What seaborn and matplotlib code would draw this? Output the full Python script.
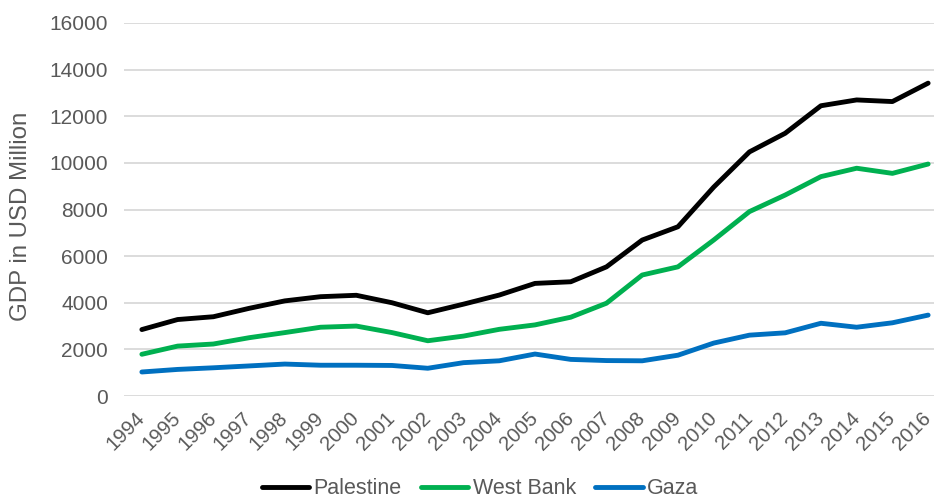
import matplotlib
matplotlib.use("Agg")
import matplotlib.pyplot as plt
import pandas as pd
import seaborn as sns

years = [str(y) for y in range(1994, 2017)]
palestine = [2850, 3280, 3400, 3760, 4080, 4260, 4320, 4000, 3570, 3940, 4330,
             4830, 4900, 5540, 6690, 7260, 8960, 10470, 11270, 12450, 12700, 12630, 13420]
west_bank = [1790, 2140, 2230, 2500, 2720, 2950, 3000, 2720, 2370, 2570, 2860,
             3050, 3380, 3980, 5190, 5540, 6690, 7910, 8620, 9410, 9770, 9550, 9950]
gaza = [1030, 1140, 1210, 1290, 1370, 1320, 1320, 1310, 1190, 1430, 1510,
        1800, 1570, 1520, 1510, 1750, 2270, 2610, 2710, 3120, 2950, 3140, 3470]
series_names = ["Palestine", "West Bank", "Gaza"]
colors = ["#000000", "#00B050", "#0070C0"]
y_ticks = list(range(0, 16001, 2000))

df = pd.DataFrame({
    "Year": years * 3,
    "GDP": palestine + west_bank + gaza,
    "Region": [n for n in series_names for _ in years],
})

sns.set_theme(style="white")
plt.rcParams["font.family"] = ["Liberation Sans", "DejaVu Sans"]
text_color = "#595959"

fig = plt.figure(figsize=(9.34, 4.99), dpi=100)
ax = fig.add_axes([124 / 934, 1 - 396 / 499, (946 - 124) / 934, (396 - 23) / 499])

sns.lineplot(data=df, x="Year", y="GDP", hue="Region", palette=colors,
             hue_order=series_names, linewidth=3.5, ax=ax, sort=False,
             legend=True)

ax.set_xlim(-0.5, len(years) - 0.5)
ax.set_ylim(0, 16000)
ax.set_yticks(y_ticks)
ax.set_yticklabels([str(t) for t in y_ticks])
ax.grid(axis="y", color="#D9D9D9", linewidth=1.3)
ax.set_axisbelow(True)
for s in ax.spines.values():
    s.set_visible(False)
ax.tick_params(axis="both", length=0, labelcolor=text_color)
ax.tick_params(axis="y", pad=11.5, labelsize=15)
ax.tick_params(axis="x", pad=14, labelsize=14.6)
for lbl in ax.get_xticklabels():
    lbl.set_rotation(45)
    lbl.set_ha("right")
    lbl.set_va("center")
    lbl.set_rotation_mode("anchor")
ax.set_xlabel("")
ax.set_ylabel("")
fig.text(21.5 / 934, 1 - 216 / 499, "GDP in USD Million", rotation=90,
         ha="center", va="center", fontsize=17.3, color=text_color)

handles, labels = ax.get_legend_handles_labels()
ax.get_legend().remove()
fig.legend(handles, labels, loc="center", bbox_to_anchor=(480 / 934, 1 - 489 / 499),
           ncol=3, frameon=False, fontsize=15.5, handlelength=2.2,
           handletextpad=0.2, columnspacing=0.9, labelcolor=text_color,
           borderpad=0, borderaxespad=0)

fig.savefig("out.png", dpi=100)
